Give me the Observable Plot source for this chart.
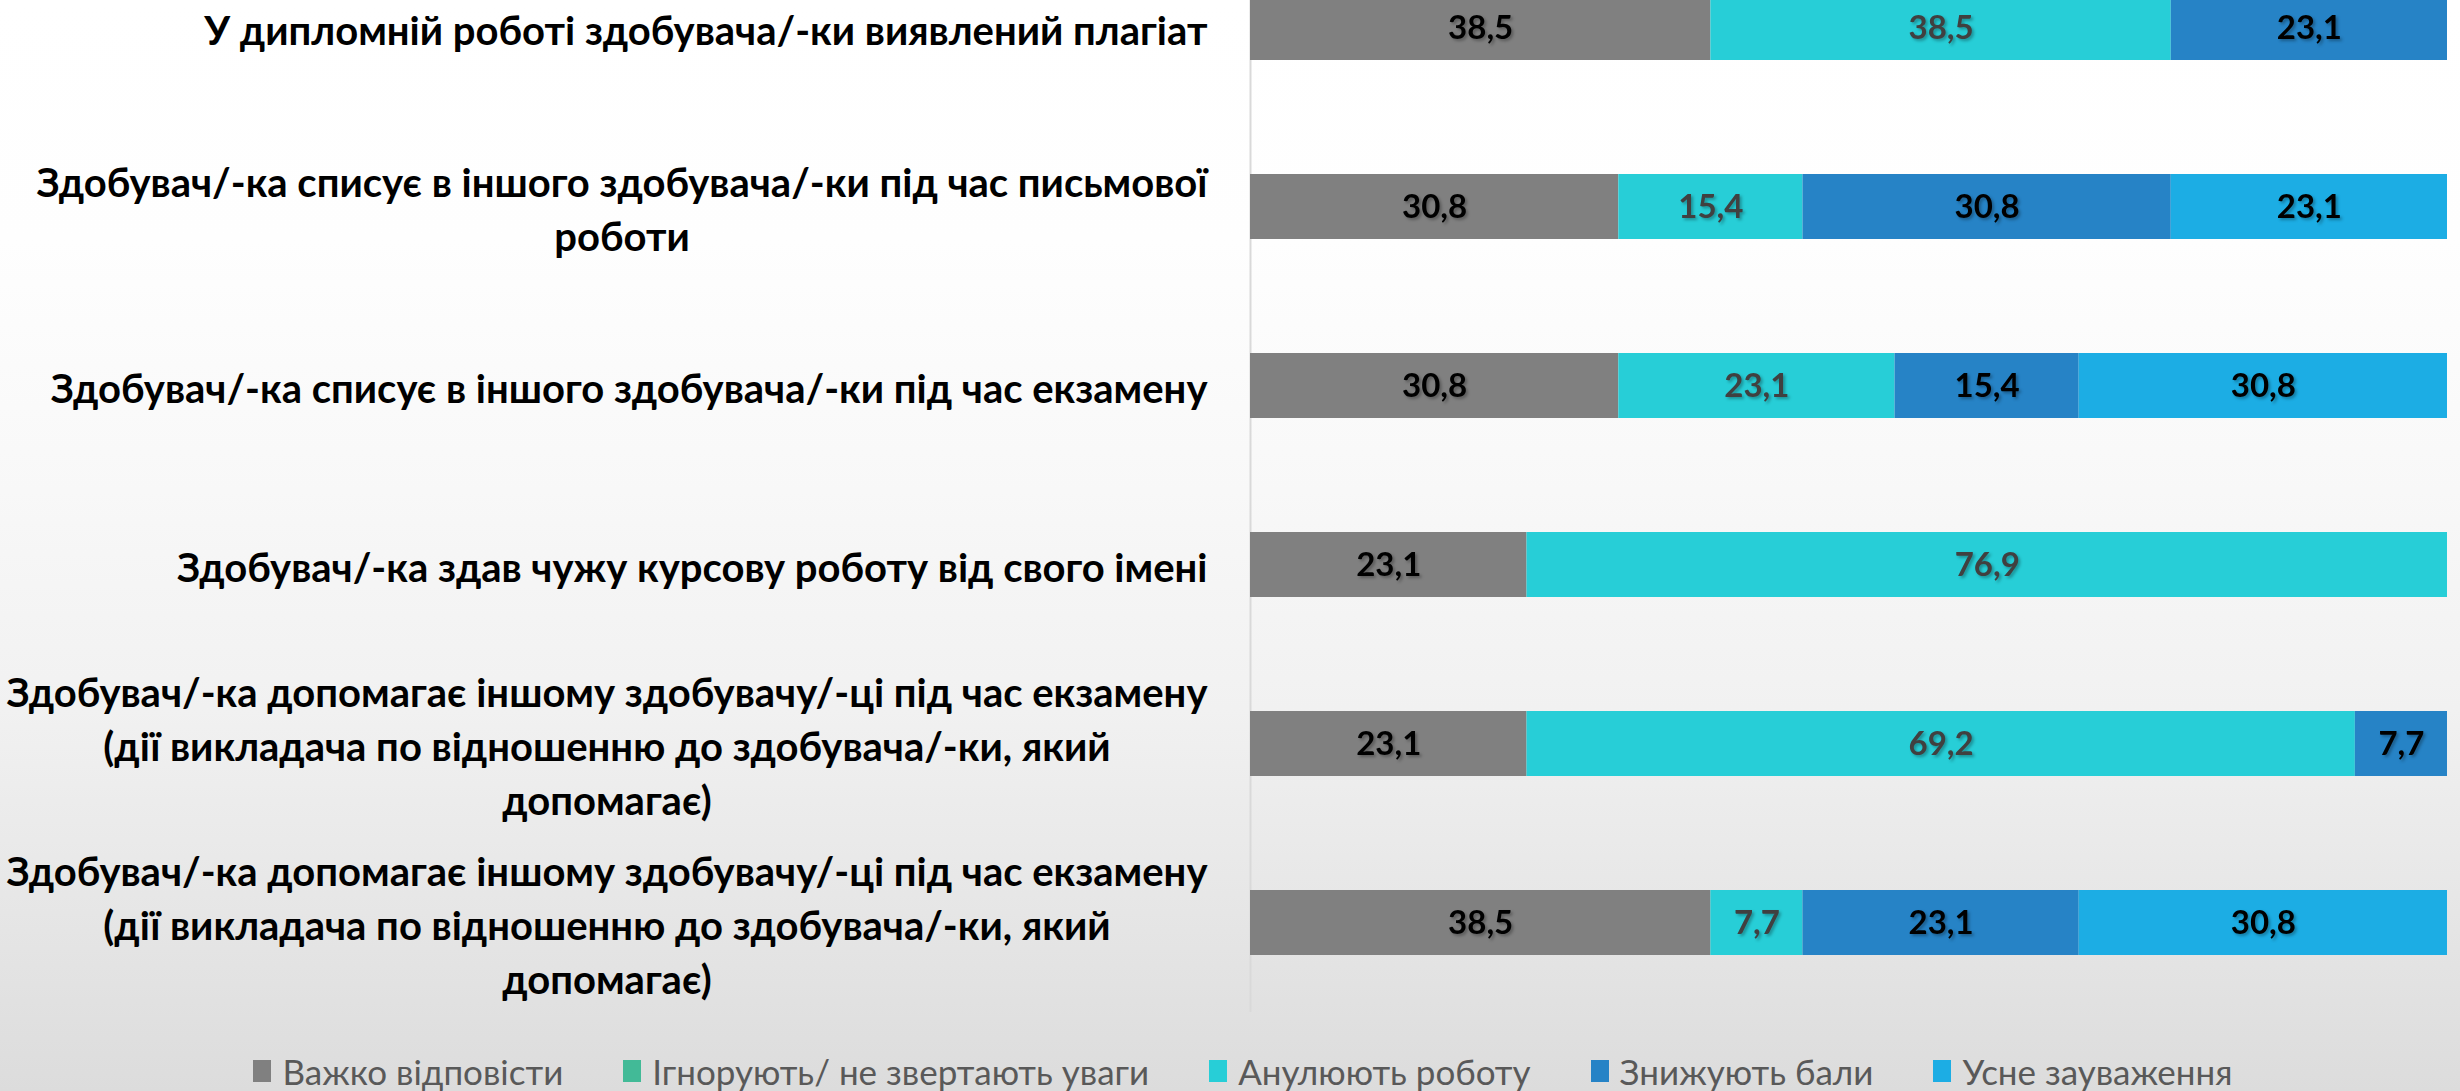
<!DOCTYPE html>
<html>
<head>
<meta charset="utf-8">
<script src="https://cdn.jsdelivr.net/npm/d3@7"></script>
<script src="https://cdn.jsdelivr.net/npm/@observablehq/plot@0.6"></script>
<style>
html, body { margin: 0; padding: 0; }
body {
  width: 2460px; height: 1091px; overflow: hidden;
  background: linear-gradient(to bottom, #ffffff 0%, #fefefe 22%, #f8f8f8 45%, #f1f1f1 65%, #e7e7e7 82%, #dcdcdc 100%);
  font-family: Lato, "DejaVu Sans Condensed", sans-serif;
}
#chart svg { display: block; background: transparent; overflow: visible; }
#legend {
  display: flex; justify-content: center; align-items: center;
  height: 79px; padding-left: 26px; padding-top: 38px; box-sizing: border-box;
  font-size: 35px; color: #595959;
}
.item { display: flex; align-items: center; margin: 0 30px; }
.sw { width: 18px; height: 22px; margin-right: 11px; }
</style>
</head>
<body>
<div id="chart"></div>
<div id="legend"></div>
<script>
const categories = [
  "У дипломній роботі здобувача/-ки виявлений плагіат",
  "Здобувач/-ка списує в іншого здобувача/-ки під час письмової\nроботи",
  "Здобувач/-ка списує в іншого здобувача/-ки під час екзамену",
  "Здобувач/-ка здав чужу курсову роботу від свого імені",
  "Здобувач/-ка допомагає іншому здобувачу/-ці під час екзамену\n(дії викладача по відношенню до здобувача/-ки, який\nдопомагає)",
  "Здобувач/-ка допомагає іншому здобувачу/-ці під час екзамену\n(дії викладача по відношенню до здобувача/-ки, який\nдопомагає)"
];
const series = ["Важко відповісти", "Ігнорують/ не звертають уваги", "Анулюють роботу", "Знижують бали", "Усне зауваження"];
const colors = ["#808080", "#42BA97", "#27CED7", "#2683C6", "#1CADE4"];

const hardToAnswer = [38.5, 30.8, 30.8, 23.1, 23.1, 38.5];
const ignoring     = [0, 0, 0, 0, 0, 0];
const annulWork    = [38.5, 15.4, 23.1, 76.9, 69.2, 7.7];
const lowerScore   = [23.1, 30.8, 15.4, 0, 7.7, 23.1];
const oralRemark   = [0, 23.1, 30.8, 0, 0, 30.8];

const valuesBySeries = [hardToAnswer, ignoring, annulWork, lowerScore, oralRemark];
const rows = categories.map((c, i) => i);
const data = [];
series.forEach((s, j) => rows.forEach(i => data.push({row: i, series: s, value: valuesBySeries[j][i]})));

const fmt = v => v.toFixed(1).replace(".", ",");
const stackOpts = {offset: "normalize", x: "value", y: "row", z: "series"};

const chart = Plot.plot({
  width: 2460,
  height: 1012,
  marginLeft: 1250,
  marginRight: 13,
  marginTop: 0,
  marginBottom: 0,
  style: {background: "transparent", fontFamily: 'Lato, "DejaVu Sans Condensed", sans-serif'},
  x: {domain: [0, 1], axis: null},
  y: {type: "band", domain: rows, range: [-123, 1072], padding: 0.6389, axis: null},
  color: {domain: series, range: colors},
  marks: [
    Plot.ruleX([0], {stroke: "#d9d9d9", strokeWidth: 2}),
    Plot.barX(data, Plot.stackX({...stackOpts, fill: "series"})),
    Plot.text(data, Plot.stackX({...stackOpts,
      text: d => (d.value > 0 && d.series !== series[2]) ? fmt(d.value) : null,
      fill: "#000000", fontSize: 33, fontWeight: "bold"})),
    Plot.text(data, Plot.stackX({...stackOpts,
      text: d => (d.value > 0 && d.series === series[2]) ? fmt(d.value) : null,
      fill: "#404040", fontSize: 33, fontWeight: "bold"})),
    Plot.text(rows, {y: d => d, frameAnchor: "left", dx: -43, textAnchor: "end",
      text: d => categories[d], fontSize: 40, fontWeight: "bold", lineHeight: 1.35, fill: "#000000"})
  ]
});
document.getElementById("chart").appendChild(chart);

const groups = chart.querySelectorAll('g[aria-label="text"]');
// subtle shadow on value labels
groups[0].style.filter = "drop-shadow(2px 2px 1.5px rgba(0,0,0,0.3))";
groups[1].style.filter = "drop-shadow(2px 2px 1.5px rgba(0,0,0,0.3))";
// center the lines of multi-line labels within their right-aligned block
const labelGroup = groups[groups.length - 1];
labelGroup.querySelectorAll("text").forEach(t => {
  const spans = Array.from(t.querySelectorAll("tspan"));
  if (spans.length > 1) {
    const w = spans.map(s => s.getComputedTextLength());
    const W = Math.max(...w);
    spans.forEach((s, k) => s.setAttribute("x", -(W - w[k]) / 2));
  }
});

const legend = document.getElementById("legend");
series.forEach((s, j) => {
  const it = document.createElement("div");
  it.className = "item";
  const sw = document.createElement("div");
  sw.className = "sw";
  sw.style.background = colors[j];
  const tx = document.createElement("span");
  tx.textContent = s;
  it.appendChild(sw);
  it.appendChild(tx);
  legend.appendChild(it);
});
</script>
</body>
</html>
